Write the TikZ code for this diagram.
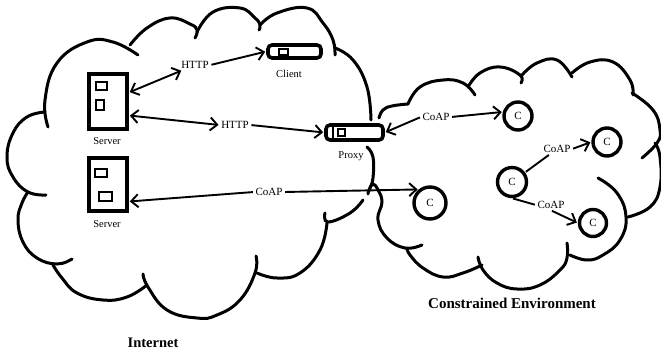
\documentclass[tikz,border=0pt]{standalone}
\usepackage{fontspec}
\setmainfont{Liberation Serif}
\usepackage{tikz}
\usetikzlibrary{arrows.meta,positioning}
\tikzstyle{arrow} = [line width=1.9pt,>={Straight Barb[length=7pt,width=13pt]},shorten <=1pt,shorten >=1pt]
\tikzstyle{cloudline} = [line width=3pt,line cap=round,smooth,tension=0.75]
\tikzstyle{serverbox} = [rectangle, draw, line width=3.6pt, minimum width=38pt, inner sep=0pt]
\tikzstyle{slot} = [rectangle, draw, line width=2pt, inner sep=0pt]
\tikzstyle{devicebox} = [rectangle, rounded corners=4pt, draw, line width=3.6pt, inner sep=0pt]
\tikzstyle{mote} = [circle, draw, line width=3.4pt, inner sep=0pt, font=\fontsize{11}{11}\selectfont]
\tikzstyle{proto} = [inner sep=1.5pt, font=\fontsize{11}{11}\selectfont]
\tikzstyle{caption} = [inner sep=0pt, font=\fontsize{10.5}{11}\selectfont]
\tikzstyle{region} = [inner sep=0pt, font=\fontsize{14.5}{16}\selectfont\bfseries]
\begin{document}
\begin{tikzpicture}[x=1pt,y=-1pt]
\useasboundingbox (0,0) rectangle (661,352);

% Internet cloud
\draw[cloudline] plot[smooth] coordinates {(48,127) (45,100) (57,63) (87,42) (113,42) (138,55)};
\draw[cloudline] plot[smooth] coordinates {(130,45) (147,28) (170,18) (190,24) (197,30) (195,38)};
\draw[cloudline] plot[smooth] coordinates {(197,32) (213,12) (240,8) (255,18) (260,25) (259,30)};
\draw[cloudline] plot[smooth] coordinates {(260,25) (277,13) (307,8) (323,23) (333,40) (335,55)};
\draw[cloudline] plot[smooth] coordinates {(335,48) (353,60) (367,87) (371,120)};
\draw[cloudline] plot[smooth] coordinates {(367,147) (373,157) (373,178) (370,188)};
\draw[cloudline] plot[smooth] coordinates {(363,200) (350,213) (328,222) (325,213)};
\draw[cloudline] plot[smooth] coordinates {(327,223) (320,250) (300,273) (277,278) (257,273)};
\draw[cloudline] plot[smooth] coordinates {(256,256) (255,273) (240,300) (217,315) (197,318) (167,310) (148,287) (143,274)};
\draw[cloudline] plot[smooth] coordinates {(147,285) (127,297) (103,300) (77,293) (62,278) (53,265)};
\draw[cloudline] plot[smooth] coordinates {(72,259) (57,264) (37,258) (23,242) (18,220) (22,203) (28,192)};
\draw[cloudline] plot[smooth] coordinates {(46,195) (28,192) (13,177) (7,157) (13,133) (27,117) (45,112)};

% Constrained cloud
\draw[cloudline] plot[smooth] coordinates {(379,118) (383,110) (392,106) (408,104)};
\draw[cloudline] plot[smooth] coordinates {(408,104) (420,87) (443,80) (463,83) (475,95)};
\draw[cloudline] plot[smooth] coordinates {(468,87) (480,73) (500,67) (520,75) (521,83)};
\draw[cloudline] plot[smooth] coordinates {(522,75) (537,63) (557,60) (572,77)};
\draw[cloudline] plot[smooth] coordinates {(572,73) (590,62) (613,62) (630,80) (633,95)};
\draw[cloudline] plot[smooth] coordinates {(632,93) (653,110) (660,130) (657,143) (642,158)};
\draw[cloudline] plot[smooth] coordinates {(655,143) (660,157) (660,187) (650,207) (628,217)};
\draw[cloudline] plot[smooth] coordinates {(598,178) (617,193) (626,217) (620,240) (603,255) (587,260) (570,255)};
\draw[cloudline] plot[smooth] coordinates {(567,243) (567,258) (560,270) (540,285) (517,289) (497,283) (483,270) (478,257)};
\draw[cloudline] plot[smooth] coordinates {(482,265) (463,273) (443,277) (423,268) (410,255) (407,248)};
\draw[cloudline] plot[smooth] coordinates {(422,245) (405,248) (387,238) (378,220) (382,202) (378,190) (373,184) (369,190) (368,194)};

% Servers
\node (server1) [serverbox, minimum height=55pt] at (108,101.5) {};
\node (server2) [serverbox, minimum height=53pt] at (108,184.5) {};
\node (slot1) [slot, minimum width=11pt, minimum height=8pt] at (101,86.5) {};
\node (slot2) [slot, minimum width=8pt, minimum height=10pt] at (99.5,105.5) {};
\node (slot3) [slot, minimum width=12pt, minimum height=8pt] at (100.5,173.5) {};
\node (slot4) [slot, minimum width=13pt, minimum height=9pt] at (105,197) {};
\node (label1) [caption] at (107,141) {Server};
\node (label2) [caption] at (107,224) {Server};

% Client and proxy
\node (client) [devicebox, minimum width=53pt, minimum height=13pt] at (294.5,51.5) {};
\node (slot5) [slot, minimum width=9pt, minimum height=6pt] at (283,52) {};
\node (label3) [caption] at (289,74) {Client};
\node (proxy) [devicebox, minimum width=57pt, minimum height=15pt] at (354.5,132.5) {};
\node (slot6) [slot, minimum width=7pt, minimum height=7pt] at (341,132.5) {};
\draw[line width=2.4pt] ([xshift=9pt]proxy.north west) -- ([xshift=9pt]proxy.south west);
\node (label4) [caption] at (351,156) {Proxy};

% Motes
\node (c1) [mote, minimum size=28pt] at (518,116) {C};
\node (c2) [mote, minimum size=28pt] at (607,142) {C};
\node (c3) [mote, minimum size=29pt] at (512,182) {C};
\node (c4) [mote, minimum size=27pt] at (593,223) {C};
\node (c5) [mote, minimum size=32pt] at (430,203) {C};

% Protocol labels
\node (http1) [proto] at (195,65) {HTTP};
\node (http2) [proto] at (235,125) {HTTP};
\node (coap1) [proto] at (269,192) {CoAP};
\node (coap2) [proto] at (436,117) {CoAP};
\node (coap3) [proto] at (557,149) {CoAP};
\node (coap4) [proto] at (551,205) {CoAP};

% Links
\draw[arrow,<->] ([yshift=9pt]server1.east) -- (http1);
\draw[arrow,->] (http1.east) -- (client.west);
\draw[arrow,<->] ([yshift=-14pt]server1.east) -- (http2.west);
\draw[arrow,->] (http2.east) -- (proxy.west);
\draw[arrow,<-] ([yshift=-17pt]server2.east) -- (coap1.west);
\draw[arrow,->] (coap1.east) -- (c5.130);
\draw[arrow,<-] (proxy.east) -- (coap2.west);
\draw[arrow,->] (coap2.east) -- (c1.165);
\draw[arrow] (c3) -- (coap3);
\draw[arrow,->] (coap3.east) -- (c2.west);
\draw[arrow] (c3.south) -- (coap4.west);
\draw[arrow,->] (coap4.south) -- (c4.west);

% Region names
\node (internet) [region] at (153,343) {Internet};
\node (constrained) [region, font=\fontsize{15}{16}\selectfont\bfseries] at (512,303) {Constrained Environment};
\end{tikzpicture}
\end{document}
